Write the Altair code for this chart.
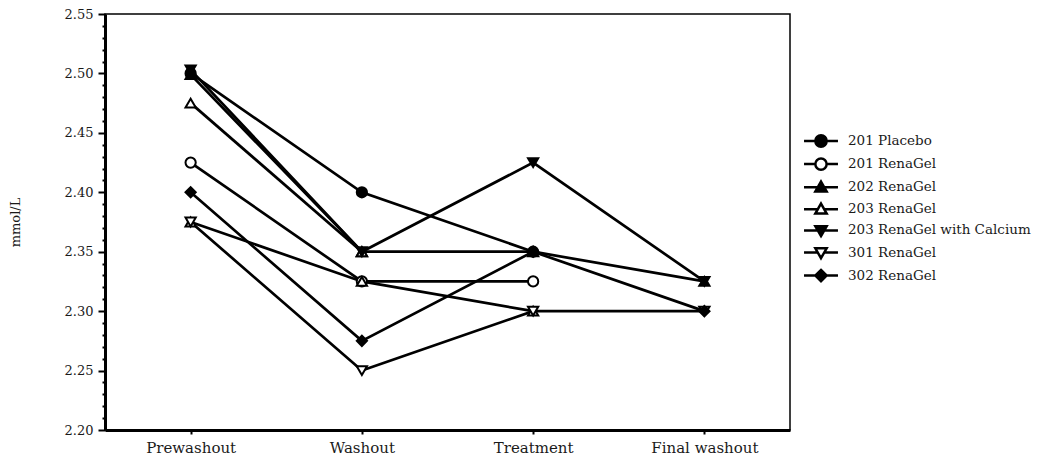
import altair as alt
import pandas as pd

# ---- data ----
times = ["Prewashout", "Washout", "Treatment", "Final washout"]

series_names = [
    "201 Placebo",
    "201 RenaGel",
    "202 RenaGel",
    "203 RenaGel",
    "203 RenaGel with Calcium",
    "301 RenaGel",
    "302 RenaGel",
]

# one list per drawn line (203 RenaGel appears as two lines)
line_ids = ["201P", "201R", "202R", "203Ra", "203Rb", "203C", "301R", "302R"]
line_series = [
    "201 Placebo", "201 RenaGel", "202 RenaGel", "203 RenaGel",
    "203 RenaGel", "203 RenaGel with Calcium", "301 RenaGel", "302 RenaGel",
]
placebo_201 = [2.500, 2.400, 2.350, None]
renagel_201 = [2.425, 2.325, 2.325, None]
renagel_202 = [2.499, 2.350, 2.350, 2.325]
renagel_203a = [2.475, 2.350, None, None]
renagel_203b = [2.375, 2.325, 2.300, None]
calcium_203 = [2.503, 2.350, 2.425, 2.325]
renagel_301 = [2.375, 2.250, 2.300, 2.300]
renagel_302 = [2.400, 2.275, 2.350, 2.300]
line_values = [placebo_201, renagel_201, renagel_202, renagel_203a,
               renagel_203b, calcium_203, renagel_301, renagel_302]

y_ticks = [round(2.20 + 0.01 * i, 2) for i in range(36)]

# ---- styling ----
marker_shapes = ["circle", "circle", "triangle-up", "triangle-up",
                 "triangle-down", "triangle-down", "diamond"]
marker_fills = ["black", "white", "black", "white", "black", "white", "black"]
legend_strokes = ["black"] * 7
legend_paths = [
    "M-1,0A1,1,0,1,1,1,0A1,1,0,1,1,-1,0Z M1,0H3 M-1,0H-3",
    "M-1,0A1,1,0,1,1,1,0A1,1,0,1,1,-1,0Z M1,0H3 M-1,0H-3",
    "M0,-1L1,0.75L-1,0.75Z M0.57,0H3 M-0.57,0H-3",
    "M0,-1L1,0.75L-1,0.75Z M0.57,0H3 M-0.57,0H-3",
    "M0,1L1,-0.75L-1,-0.75Z M0.57,0H3 M-0.57,0H-3",
    "M0,1L1,-0.75L-1,-0.75Z M0.57,0H3 M-0.57,0H-3",
    "M0,-1L1,0L0,1L-1,0Z M1,0H3 M-1,0H-3",
]

rows = []
for lid, ser, vals in zip(line_ids, line_series, line_values):
    for t, v in zip(times, vals):
        if v is not None:
            rows.append({"line": lid, "series": ser, "time": t, "value": v})
df = pd.DataFrame(rows)

FONT = "DejaVu Serif"
TXT = "#1a1a1a"

x_enc = alt.X(
    "time:O", sort=times,
    scale=alt.Scale(type="point", padding=0.5),
    axis=alt.Axis(title=None, labelAngle=0, labelFont=FONT, labelFontSize=15,
                  labelColor=TXT, tickSize=4, tickWidth=2, tickColor="black",
                  labelPadding=6, domainWidth=3, domainColor="black"),
)
y_enc = alt.Y(
    "value:Q",
    scale=alt.Scale(domain=[2.20, 2.55], nice=False, zero=False),
    axis=alt.Axis(
        title="mmol/L", values=y_ticks,
        labelExpr="(round(datum.value*100) % 5 == 0) ? format(datum.value, '.2f') : ''",
        tickSize={"condition": {"test": "round(datum.value*100) % 5 != 0", "value": 3}, "value": 7},
        tickWidth=2, tickColor="black",
        labelFont=FONT, labelFontSize=13, labelColor=TXT, labelPadding=5,
        titleFont=FONT, titleFontSize=13, titleFontWeight="normal", titleColor=TXT,
        titlePadding=42, domainWidth=3, domainColor="black",
    ),
)

lines = alt.Chart(df).mark_line(color="black", strokeWidth=2.7).encode(
    x=x_enc, y=y_enc, detail="line:N"
)

point_layers = []
for name, shp, fc in zip(series_names, marker_shapes, marker_fills):
    point_layers.append(
        alt.Chart(df).transform_filter(alt.datum.series == name).mark_point(
            shape=shp, filled=True, fill=fc, stroke="black", strokeWidth=2,
            size=105, opacity=1
        ).encode(x=x_enc, y=y_enc)
    )

leg = alt.Legend(
    title=None, orient="none", legendX=709, legendY=120,
    symbolSize=128, symbolStrokeWidth=2.5, symbolStrokeColor="black",
    symbolOpacity=1,
    labelOffset=20, labelFont=FONT, labelFontSize=13.5, labelColor=TXT,
    rowPadding=1.1, padding=0, labelLimit=400,
)

legend_layer = alt.Chart(df).transform_filter("datum.value > 100").mark_point(
    filled=True, strokeWidth=2.5, size=128, opacity=1
).encode(
    shape=alt.Shape("series:N", scale=alt.Scale(domain=series_names, range=legend_paths), legend=leg),
    fill=alt.Fill("series:N", scale=alt.Scale(domain=series_names, range=marker_fills), legend=leg),
    stroke=alt.Stroke("series:N", scale=alt.Scale(domain=series_names, range=legend_strokes), legend=leg),
)

chart = alt.layer(lines, *point_layers, legend_layer).properties(
    width=685, height=416,
    autosize=alt.AutoSizeParams(type="none"),
    padding={"left": 97, "top": 6, "right": 247, "bottom": 26},
).configure_view(
    stroke="black", strokeWidth=1.5
).configure_axis(grid=False)

chart.save("out.html", embed_options={"renderer": "svg", "actions": False})
